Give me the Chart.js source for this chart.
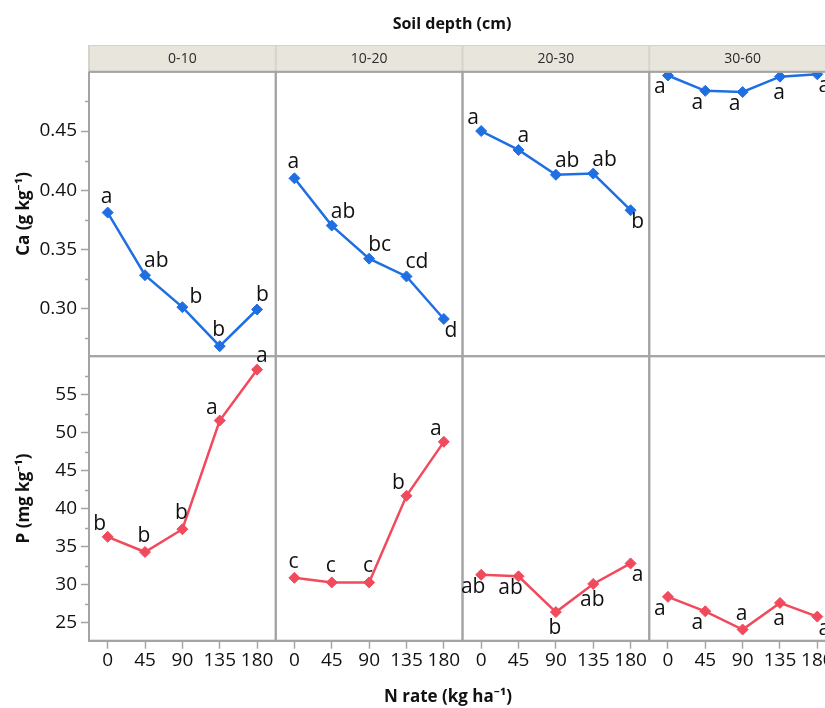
<!DOCTYPE html>
<html><head><meta charset="utf-8">
<script src="https://cdn.jsdelivr.net/npm/chart.js@4"></script>
<style>
html,body{margin:0;padding:0;background:#fff;overflow:hidden;}
#wrap{width:825px;height:708px;overflow:hidden;position:relative;}
canvas{display:block;}
</style></head><body>
<div id="wrap"><canvas id="c" width="860" height="708" style="width:860px;height:708px"></canvas></div>
<script>
// ---- categories ----
const nRates = [0, 45, 90, 135, 180];
const depths = ['0-10', '10-20', '20-30', '30-60'];

// ---- Ca (g kg-1) by depth ----
const ca_0_10  = [0.381, 0.328, 0.301, 0.268, 0.299];
const ca_10_20 = [0.410, 0.370, 0.342, 0.327, 0.291];
const ca_20_30 = [0.450, 0.434, 0.413, 0.414, 0.383];
const ca_30_60 = [0.497, 0.484, 0.483, 0.496, 0.498];

// ---- P (mg kg-1) by depth ----
const p_0_10  = [36.3, 34.3, 37.3, 51.6, 58.3];
const p_10_20 = [30.9, 30.3, 30.3, 41.7, 48.8];
const p_20_30 = [31.3, 31.1, 26.4, 30.1, 32.8];
const p_30_60 = [28.4, 26.5, 24.1, 27.6, 25.8];

// ---- significance letters ----
const caLetters_0_10  = ['a', 'ab', 'b', 'b', 'b'];
const caLetters_10_20 = ['a', 'ab', 'bc', 'cd', 'd'];
const caLetters_20_30 = ['a', 'a', 'ab', 'ab', 'b'];
const caLetters_30_60 = ['a', 'a', 'a', 'a', 'a'];
const pLetters_0_10  = ['b', 'b', 'b', 'a', 'a'];
const pLetters_10_20 = ['c', 'c', 'c', 'b', 'a'];
const pLetters_20_30 = ['ab', 'ab', 'b', 'ab', 'a'];
const pLetters_30_60 = ['a', 'a', 'a', 'a', 'a'];

// ---- letter placement (style) ----
const caPlaces = [
  ['n', 'ne', 'e', 'n', 'ne'],
  ['n', 'ne', 'ne', 'ne', 'se'],
  ['nw', 'ne', 'ne', 'ne', 'se'],
  ['sw', 'sw', 'sw', 's', 'se']
];
const pPlaces = [
  ['nw', 'n', 'n', 'nw', 'ne'],
  ['n', 'n', 'n', 'nw', 'nw'],
  ['sw', 'sw', 's', 's', 'se'],
  ['sw', 'sw', 'n', 's', 'se']
];

// ---- ticks ----
const xTicks = [0, 45, 90, 135, 180];
const caTicks = [0.30, 0.35, 0.40, 0.45];
const caMinorTicks = [0.275, 0.325, 0.375, 0.425, 0.475];
const pTicks = [25, 30, 35, 40, 45, 50, 55];
const pMinorTicks = [27.5, 32.5, 37.5, 42.5, 47.5, 52.5, 57.5];

// ---- titles ----
const topTitle = 'Soil depth (cm)';
const bottomTitle = 'N rate (kg ha\u207B\u00B9)';
const caTitle = 'Ca (g kg\u207B\u00B9)';
const pTitle = 'P (mg kg\u207B\u00B9)';

const caSeries = [ca_0_10, ca_10_20, ca_20_30, ca_30_60];
const pSeries = [p_0_10, p_10_20, p_20_30, p_30_60];
const caLetters = [caLetters_0_10, caLetters_10_20, caLetters_20_30, caLetters_30_60];
const pLetters = [pLetters_0_10, pLetters_10_20, pLetters_20_30, pLetters_30_60];

const FONT = "'Open Sans', 'Noto Sans', sans-serif";
const axisGray = '#a4a4a4';
const blue = '#1f6fe3';
const red = '#f04a5c';
const tickTextColor = '#111';

const datasets = [];
depths.forEach((d, i) => {
  datasets.push({
    label: 'Ca ' + d,
    data: nRates.map((x, j) => ({x: x, y: caSeries[i][j]})),
    xAxisID: 'x' + i, yAxisID: 'yCa',
    borderColor: blue, backgroundColor: blue,
    pointBackgroundColor: blue, pointBorderColor: blue,
    pointStyle: 'rectRot', pointRadius: 5.5, pointBorderWidth: 1,
    borderWidth: 2.5, tension: 0, clip: false,
    letters: caLetters[i], places: caPlaces[i]
  });
});
depths.forEach((d, i) => {
  datasets.push({
    label: 'P ' + d,
    data: nRates.map((x, j) => ({x: x, y: pSeries[i][j]})),
    xAxisID: 'x' + i, yAxisID: 'yP',
    borderColor: red, backgroundColor: red,
    pointBackgroundColor: red, pointBorderColor: red,
    pointStyle: 'rectRot', pointRadius: 5.5, pointBorderWidth: 1,
    borderWidth: 2.5, tension: 0, clip: false,
    letters: pLetters[i], places: pPlaces[i]
  });
});

const scales = {};
depths.forEach((d, i) => {
  scales['x' + i] = {
    type: 'linear', position: 'bottom', stack: 'cols', stackWeight: 1, offset: false,
    min: -22.5, max: 202.5,
    afterBuildTicks: s => { s.ticks = xTicks.map(v => ({value: v})); },
    afterFit: s => { s.height = 38; },
    grid: {drawOnChartArea: false, drawTicks: true, tickLength: 8, tickColor: axisGray, tickWidth: 1.5},
    border: {display: true, color: axisGray, width: 2},
    ticks: {autoSkip: false, maxRotation: 0, padding: 0, color: tickTextColor, font: {family: FONT, size: 19}}
  };
});
function yScale(min, max, ticks, title, weight) {
  return {
    type: 'linear', position: 'left', stack: 'rows', stackWeight: 1, weight: weight,
    min: min, max: max,
    afterBuildTicks: s => { s.ticks = ticks.map(v => ({value: v})); },
    afterFit: s => { s.width = 89; },
    grid: {drawOnChartArea: false, drawTicks: true, tickLength: 8, tickColor: axisGray, tickWidth: 1.5},
    border: {display: true, color: axisGray, width: 2},
    ticks: {autoSkip: false, padding: 4, color: tickTextColor, font: {family: FONT, size: 19},
      callback: v => (title === caTitle ? v.toFixed(2) : String(v))},
    title: {display: true, text: title, color: '#111', font: {family: FONT, size: 17, weight: 'bold'},
      padding: {top: 14, bottom: 0}}
  };
}
scales.yCa = yScale(0.2595, 0.5002, caTicks, caTitle, 1);
scales.yP = yScale(22.63, 60.07, pTicks, pTitle, 0);

const decor = {
  id: 'decor',
  afterDraw(chart) {
    const ctx = chart.ctx;
    const yCa = chart.scales.yCa, yP = chart.scales.yP;
    const xs = depths.map((d, i) => chart.scales['x' + i]);
    ctx.save();
    // minor ticks
    ctx.strokeStyle = axisGray; ctx.lineWidth = 1.5;
    [[yCa, caMinorTicks], [yP, pMinorTicks]].forEach(([s, arr]) => {
      arr.forEach(v => {
        const y = Math.round(s.getPixelForValue(v)) + 0.5;
        ctx.beginPath(); ctx.moveTo(s.right - 4, y); ctx.lineTo(s.right, y); ctx.stroke();
      });
    });
    // panel borders
    ctx.strokeStyle = axisGray; ctx.lineWidth = 2;
    xs.forEach(xsc => {
      [yCa, yP].forEach(ys => {
        ctx.strokeRect(xsc.left, ys.top, xsc.right - xsc.left, ys.bottom - ys.top);
      });
    });
    // strips
    const stripTop = 45, stripBottom = yCa.top;
    xs.forEach((xsc, i) => {
      ctx.fillStyle = '#e8e6dc';
      ctx.fillRect(xsc.left, stripTop, xsc.right - xsc.left, stripBottom - stripTop);
      ctx.strokeStyle = '#d6d4ca'; ctx.lineWidth = 2;
      ctx.beginPath(); ctx.moveTo(xsc.left, stripTop); ctx.lineTo(xsc.left, stripBottom); ctx.stroke();
      ctx.lineWidth = 1;
      ctx.beginPath(); ctx.moveTo(xsc.left, stripTop + 0.5); ctx.lineTo(xsc.right, stripTop + 0.5); ctx.stroke();
      ctx.fillStyle = '#2a2a2a';
      ctx.font = '14px ' + FONT;
      ctx.textAlign = 'center'; ctx.textBaseline = 'middle';
      ctx.fillText(depths[i], (xsc.left + xsc.right) / 2, (stripTop + stripBottom) / 2 + 1);
    });
    ctx.strokeStyle = axisGray; ctx.lineWidth = 2;
    ctx.beginPath(); ctx.moveTo(xs[0].left, stripBottom); ctx.lineTo(xs[3].right, stripBottom); ctx.stroke();
    // letters
    ctx.fillStyle = '#111';
    ctx.font = '21px ' + FONT;
    ctx.textBaseline = 'middle';
    chart.data.datasets.forEach((ds, di) => {
      const meta = chart.getDatasetMeta(di);
      meta.data.forEach((pt, j) => {
        const t = ds.letters[j], pl = ds.places[j];
        let x = pt.x, y = pt.y, align = 'center';
        if (pl === 'n') { x += -1; y += -16; }
        else if (pl === 'ne') { x += -1; y += -14; align = 'left'; }
        else if (pl === 'e') { x += 7; y += -10; align = 'left'; }
        else if (pl === 'nw') { x += -8; y += -13; }
        else if (pl === 'sw') { x += -8; y += 12; }
        else if (pl === 's') { x += -1; y += 16; }
        else if (pl === 'se') { x += 7; y += 12; }
        ctx.textAlign = align;
        ctx.fillText(t, x, y);
      });
    });
    // titles
    ctx.fillStyle = '#111';
    ctx.textAlign = 'center'; ctx.textBaseline = 'middle';
    ctx.font = 'bold 16px ' + FONT;
    ctx.fillText(topTitle, 452, 24);
    ctx.font = 'bold 17px ' + FONT;
    ctx.fillText(bottomTitle, 448, 697);
    ctx.restore();
  }
};

new Chart(document.getElementById('c'), {
  type: 'line',
  data: {datasets: datasets},
  options: {
    responsive: false, animation: false, devicePixelRatio: 1,
    layout: {padding: {top: 71.7, bottom: 29.3, left: 0, right: 24}},
    plugins: {legend: {display: false}, tooltip: {enabled: false}, title: {display: false}},
    scales: scales
  },
  plugins: [decor]
});
</script>
</body></html>
